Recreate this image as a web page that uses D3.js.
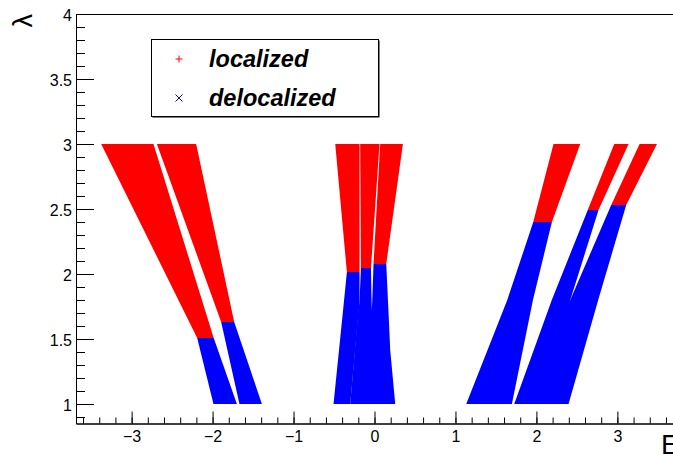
<!DOCTYPE html>
<html>
<head>
<meta charset="utf-8">
<script src="https://cdn.jsdelivr.net/npm/d3@7"></script>
<style>
  body { margin: 0; background: #fff; }
  svg { display: block; font-family: "Liberation Sans", Arial, Helvetica, sans-serif; }
</style>
</head>
<body>
<div id="chart"></div>
<script>
// Bands. Per band: lambda samples (top to bottom),
// left / right energy edge at each sample, and the lambda where it turns delocalized
const bandNames = ["left-outer", "left-inner", "mid-a", "mid-b", "mid-c", "right-a", "right-b", "right-c"];
const bandLambda = [
  [3, 1.508, 1],
  [3, 1.631, 1],
  [3, 2.015, 1.785, 1],
  [3, 2.046, 1.785, 1.723, 1],
  [3, 2.077, 1.723, 1.415, 1],
  [3, 2.4, 1.8, 1],
  [3, 2.492, 1.8, 1],
  [3, 2.531, 1.8, 1]
];
const bandLo = [
  [-3.376, -2.190, -1.989],
  [-2.688, -1.894, -1.668],
  [-0.485, -0.341, -0.378, -0.506],
  [-0.177, -0.168, -0.185, -0.200, -0.300],
  [0.070, -0.012, -0.032, -0.100, -0.200],
  [2.211, 1.961, 1.640, 1.133],
  [2.961, 2.634, 2.190, 1.726],
  [3.274, 2.924, 2.418, 1.900]
];
const bandHi = [
  [-2.730, -1.986, -1.700],
  [-2.203, -1.733, -1.391],
  [-0.185, -0.185, -0.185, -0.300],
  [0.062, -0.044, -0.036, -0.032, 0.100],
  [0.351, 0.145, 0.172, 0.194, 0.256],
  [2.541, 2.191, 1.957, 1.697],
  [3.138, 2.767, 2.418, 2.200],
  [3.489, 3.109, 2.763, 2.397]
];
const bandLambdaC = [1.508, 1.631, 2.015, 2.046, 2.077, 2.4, 2.492, 2.531];

const xTicks = [-3, -2, -1, 0, 1, 2, 3];
const yTicks = [1, 1.5, 2, 2.5, 3, 3.5, 4];
const legendLabels = ["localized", "delocalized"];

class SpectrumChart {
  constructor (opts) {
    this.w = opts.w;
    this.h = opts.h;
    this.red = opts.red;
    this.blue = opts.blue;
  }

  render () {
    this.initializeSVG();
    this.computeScaleFns();
    this.addBands();
    this.addAxis();
    this.addLegend();
    this.addTitles();
  }

  initializeSVG () {
    this.svg = d3.select("#chart")
      .append("svg")
        .attr("width", this.w)
        .attr("height", this.h);
  }

  computeScaleFns () {
    this.x = d3.scaleLinear()
      .domain([-3.687, 3.687])
      .range([76, 673]);

    this.y = d3.scaleLinear()
      .domain([0.85, 4])
      .range([423.5, 14]);
  }

  addBands () {
    let bands = bandNames.map((name, i) => ({
      name: name,
      lamC: bandLambdaC[i],
      pts: bandLambda[i].map((l, j) => ({ lam: l, lo: bandLo[i][j], hi: bandHi[i][j] }))
    }));

    let area = d3.area()
      .y((d) => this.y(d.lam))
      .x0((d) => this.x(d.lo))
      .x1((d) => this.x(d.hi));

    let g = this.svg.append("g").attr("class", "bands");

    // localized part first, delocalized drawn over it
    g.selectAll(".loc")
      .data(bands)
      .enter().append("path")
      .attr("class", "loc")
      .attr("d", (b) => area(b.pts.filter((p) => p.lam >= b.lamC)))
      .style("fill", this.red);

    g.selectAll(".deloc")
      .data(bands)
      .enter().append("path")
      .attr("class", "deloc")
      .attr("d", (b) => area(b.pts.filter((p) => p.lam <= b.lamC)))
      .style("fill", this.blue);
  }

  addAxis () {
    let fmt = d3.format("~g");
    let xMinor = d3.range(-18, 19).map((k) => k / 5);
    let yMinor = d3.range(9, 41).map((k) => k / 10);

    let xg = this.svg.append("g")
      .attr("class", "x-axis")
      .attr("transform", `translate(0, ${this.y(0.85)})`);

    xg.append("g").call(d3.axisBottom(this.x).tickValues(xMinor).tickSize(-6).tickSizeOuter(0).tickFormat(""));
    xg.append("g").call(d3.axisBottom(this.x).tickValues(xTicks).tickSize(-12).tickSizeOuter(0).tickPadding(7).tickFormat(fmt));

    let yg = this.svg.append("g")
      .attr("class", "y-axis")
      .attr("transform", `translate(${this.x.range()[0]}, 0)`);

    yg.append("g").call(d3.axisLeft(this.y).tickValues(yMinor).tickSize(-9).tickSizeOuter(0).tickFormat(""));
    yg.append("g").call(d3.axisLeft(this.y).tickValues(yTicks).tickSize(-18).tickSizeOuter(0).tickPadding(4).tickFormat(fmt));

    this.svg.selectAll(".x-axis text, .y-axis text")
      .style("font-family", "'Liberation Sans', Arial, sans-serif")
      .style("font-size", "16px")
      .style("fill", "#000");
    this.svg.selectAll(".y-axis text").attr("dy", "0.4em");
    this.svg.selectAll(".x-axis line, .y-axis line, .x-axis path, .y-axis path")
      .style("stroke", "#000");

    // top of the frame
    this.svg.append("line")
      .attr("x1", this.x.range()[0]).attr("x2", this.w)
      .attr("y1", 14.5).attr("y2", 14.5)
      .style("stroke", "#000");
  }

  addLegend () {
    let lx = 151, ly = 39, lw = 227, lh = 77;
    let leg = this.svg.append("g").attr("class", "legend");

    leg.append("rect")
      .attr("x", lx + 1.5).attr("y", ly + 1.5)
      .attr("width", lw).attr("height", lh)
      .style("fill", "#000");
    leg.append("rect")
      .attr("x", lx + 0.5).attr("y", ly + 0.5)
      .attr("width", lw).attr("height", lh)
      .style("fill", "#fff")
      .style("stroke", "#000");

    let s = 3.5;
    let markers = [
      `M${-s},0H${s}M0,${-s}V${s}`,
      `M${-s},${-s}L${s},${s}M${-s},${s}L${s},${-s}`
    ];
    let colors = [this.red, this.blue];

    legendLabels.forEach((lab, i) => {
      let cy = ly + 20 + i * 39;
      leg.append("path")
        .attr("d", markers[i])
        .attr("transform", `translate(179, ${cy})`)
        .style("stroke", colors[i])
        .style("fill", "none");
      leg.append("text")
        .attr("x", 209)
        .attr("y", cy + 7.5)
        .style("font-size", "23.5px")
        .style("font-weight", "bold")
        .style("font-style", "italic")
        .text(lab);
    });
  }

  addTitles () {
    this.svg.append("text")
      .attr("transform", "translate(32, 14) rotate(-90)")
      .attr("text-anchor", "end")
      .style("font-size", "27px")
      .text("λ");

    // cut by the right edge, as in the original canvas
    this.svg.append("text")
      .attr("x", 661)
      .attr("y", 454)
      .style("font-size", "28px")
      .text("E");
  }
}

new SpectrumChart({ w: 673, h: 454, red: "#ff0000", blue: "#0000ff" }).render();
</script>
</body>
</html>
